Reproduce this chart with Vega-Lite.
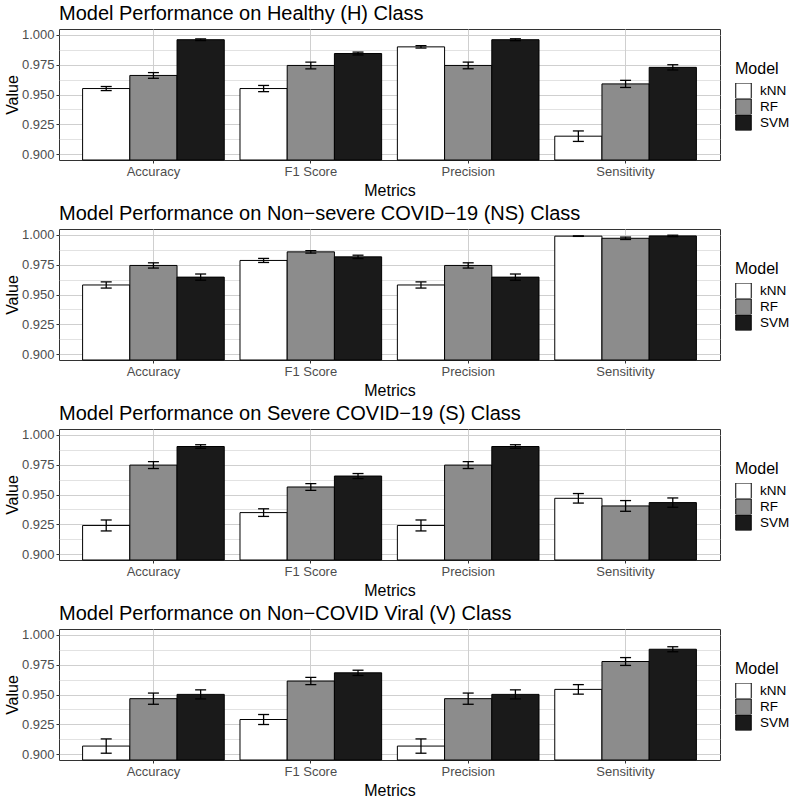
{
  "$schema": "https://vega.github.io/schema/vega-lite/v6.json",
  "padding": {"top": 3, "left": 3, "right": 4, "bottom": 2},
  "background": "white",
  "datasets": {
    "d": [
      {"Class": "H", "Metric": "Accuracy", "Model": "kNN", "Value": 0.955, "Lower": 0.9533, "Upper": 0.9567},
      {"Class": "H", "Metric": "Accuracy", "Model": "RF", "Value": 0.966, "Lower": 0.9636, "Upper": 0.9684},
      {"Class": "H", "Metric": "Accuracy", "Model": "SVM", "Value": 0.996, "Lower": 0.9953, "Upper": 0.9967},
      {"Class": "H", "Metric": "F1 Score", "Model": "kNN", "Value": 0.955, "Lower": 0.9524, "Upper": 0.9576},
      {"Class": "H", "Metric": "F1 Score", "Model": "RF", "Value": 0.9744, "Lower": 0.9716, "Upper": 0.9772},
      {"Class": "H", "Metric": "F1 Score", "Model": "SVM", "Value": 0.9844, "Lower": 0.9832, "Upper": 0.9856},
      {"Class": "H", "Metric": "Precision", "Model": "kNN", "Value": 0.99, "Lower": 0.989, "Upper": 0.991},
      {"Class": "H", "Metric": "Precision", "Model": "RF", "Value": 0.9744, "Lower": 0.9716, "Upper": 0.9772},
      {"Class": "H", "Metric": "Precision", "Model": "SVM", "Value": 0.996, "Lower": 0.9952, "Upper": 0.9968},
      {"Class": "H", "Metric": "Sensitivity", "Model": "kNN", "Value": 0.915, "Lower": 0.9106, "Upper": 0.9194},
      {"Class": "H", "Metric": "Sensitivity", "Model": "RF", "Value": 0.9589, "Lower": 0.9559, "Upper": 0.9619},
      {"Class": "H", "Metric": "Sensitivity", "Model": "SVM", "Value": 0.9728, "Lower": 0.9706, "Upper": 0.975},
      {"Class": "NS", "Metric": "Accuracy", "Model": "kNN", "Value": 0.958, "Lower": 0.9554, "Upper": 0.9606},
      {"Class": "NS", "Metric": "Accuracy", "Model": "RF", "Value": 0.9744, "Lower": 0.9722, "Upper": 0.9766},
      {"Class": "NS", "Metric": "Accuracy", "Model": "SVM", "Value": 0.9646, "Lower": 0.962, "Upper": 0.9672},
      {"Class": "NS", "Metric": "F1 Score", "Model": "kNN", "Value": 0.9786, "Lower": 0.9769, "Upper": 0.9803},
      {"Class": "NS", "Metric": "F1 Score", "Model": "RF", "Value": 0.9858, "Lower": 0.9847, "Upper": 0.9869},
      {"Class": "NS", "Metric": "F1 Score", "Model": "SVM", "Value": 0.9816, "Lower": 0.9802, "Upper": 0.983},
      {"Class": "NS", "Metric": "Precision", "Model": "kNN", "Value": 0.958, "Lower": 0.9554, "Upper": 0.9606},
      {"Class": "NS", "Metric": "Precision", "Model": "RF", "Value": 0.9744, "Lower": 0.9722, "Upper": 0.9766},
      {"Class": "NS", "Metric": "Precision", "Model": "SVM", "Value": 0.9646, "Lower": 0.962, "Upper": 0.9672},
      {"Class": "NS", "Metric": "Sensitivity", "Model": "kNN", "Value": 0.999, "Lower": 0.9988, "Upper": 0.9992},
      {"Class": "NS", "Metric": "Sensitivity", "Model": "RF", "Value": 0.9972, "Lower": 0.9962, "Upper": 0.9982},
      {"Class": "NS", "Metric": "Sensitivity", "Model": "SVM", "Value": 0.9992, "Lower": 0.9986, "Upper": 0.9998},
      {"Class": "S", "Metric": "Accuracy", "Model": "kNN", "Value": 0.924, "Lower": 0.9194, "Upper": 0.9286},
      {"Class": "S", "Metric": "Accuracy", "Model": "RF", "Value": 0.9747, "Lower": 0.9718, "Upper": 0.9776},
      {"Class": "S", "Metric": "Accuracy", "Model": "SVM", "Value": 0.9903, "Lower": 0.9888, "Upper": 0.9918},
      {"Class": "S", "Metric": "F1 Score", "Model": "kNN", "Value": 0.9348, "Lower": 0.9316, "Upper": 0.938},
      {"Class": "S", "Metric": "F1 Score", "Model": "RF", "Value": 0.9563, "Lower": 0.9535, "Upper": 0.9591},
      {"Class": "S", "Metric": "F1 Score", "Model": "SVM", "Value": 0.9655, "Lower": 0.9634, "Upper": 0.9676},
      {"Class": "S", "Metric": "Precision", "Model": "kNN", "Value": 0.924, "Lower": 0.9194, "Upper": 0.9286},
      {"Class": "S", "Metric": "Precision", "Model": "RF", "Value": 0.9747, "Lower": 0.9718, "Upper": 0.9776},
      {"Class": "S", "Metric": "Precision", "Model": "SVM", "Value": 0.9903, "Lower": 0.9888, "Upper": 0.9918},
      {"Class": "S", "Metric": "Sensitivity", "Model": "kNN", "Value": 0.9468, "Lower": 0.9428, "Upper": 0.9508},
      {"Class": "S", "Metric": "Sensitivity", "Model": "RF", "Value": 0.9404, "Lower": 0.9359, "Upper": 0.9449},
      {"Class": "S", "Metric": "Sensitivity", "Model": "SVM", "Value": 0.9432, "Lower": 0.9393, "Upper": 0.9471},
      {"Class": "V", "Metric": "Accuracy", "Model": "kNN", "Value": 0.9067, "Lower": 0.9007, "Upper": 0.9127},
      {"Class": "V", "Metric": "Accuracy", "Model": "RF", "Value": 0.9465, "Lower": 0.9418, "Upper": 0.9512},
      {"Class": "V", "Metric": "Accuracy", "Model": "SVM", "Value": 0.9501, "Lower": 0.9463, "Upper": 0.9539},
      {"Class": "V", "Metric": "F1 Score", "Model": "kNN", "Value": 0.929, "Lower": 0.9248, "Upper": 0.9332},
      {"Class": "V", "Metric": "F1 Score", "Model": "RF", "Value": 0.9613, "Lower": 0.9583, "Upper": 0.9643},
      {"Class": "V", "Metric": "F1 Score", "Model": "SVM", "Value": 0.9682, "Lower": 0.966, "Upper": 0.9704},
      {"Class": "V", "Metric": "Precision", "Model": "kNN", "Value": 0.9067, "Lower": 0.9007, "Upper": 0.9127},
      {"Class": "V", "Metric": "Precision", "Model": "RF", "Value": 0.9465, "Lower": 0.9418, "Upper": 0.9512},
      {"Class": "V", "Metric": "Precision", "Model": "SVM", "Value": 0.9501, "Lower": 0.9463, "Upper": 0.9539},
      {"Class": "V", "Metric": "Sensitivity", "Model": "kNN", "Value": 0.9543, "Lower": 0.9503, "Upper": 0.9583},
      {"Class": "V", "Metric": "Sensitivity", "Model": "RF", "Value": 0.9777, "Lower": 0.9744, "Upper": 0.981},
      {"Class": "V", "Metric": "Sensitivity", "Model": "SVM", "Value": 0.988, "Lower": 0.9859, "Upper": 0.9901}
    ]
  },
  "spacing": 4,
  "resolve": {"scale": {"fill": "independent"}, "legend": {"fill": "independent"}},
  "vconcat": [
    {
      "title": "Model Performance on Healthy (H) Class",
      "width": 661, "height": 131,
      "data": {"name": "d"},
      "transform": [{"filter": "datum.Class === 'H'"}],
      "encoding": {
        "x": {"field": "Metric", "type": "nominal", "title": "Metrics", "scale": {"paddingInner": 0.1, "paddingOuter": 0.15}, "axis": {"labelAngle": 0, "grid": true}},
        "xOffset": {"field": "Model", "type": "nominal", "sort": ["kNN", "RF", "SVM"], "scale": {"paddingInner": 0, "paddingOuter": 0}}
      },
      "layer": [
        {"mark": {"type": "bar", "stroke": "black", "strokeWidth": 1},
         "encoding": {
           "y": {"field": "Value", "type": "quantitative", "title": "Value", "scale": {"domain": [0.895, 1.005], "zero": false, "nice": false},
                 "axis": {"values": [0.9, 0.9125, 0.925, 0.9375, 0.95, 0.9625, 0.975, 0.9875, 1.0], "labelOverlap": false, "labelExpr": "round(datum.value*1000) % 25 == 0 ? format(datum.value, '.3f') : ''", "tickOpacity": {"condition": {"test": "round(datum.value*1000) % 25 != 0", "value": 0}, "value": 1}, "gridWidth": {"condition": {"test": "round(datum.value*1000) % 25 != 0", "value": 0.6}, "value": 1.1}}},
           "y2": {"datum": 0.895},
           "fill": {"field": "Model", "type": "nominal", "title": "Model", "scale": {"domain": ["kNN", "RF", "SVM"], "range": ["#ffffff", "#8c8c8c", "#1a1a1a"]}}
         }},
        {"mark": {"type": "rule", "strokeWidth": 1.3, "color": "black"},
         "encoding": {"y": {"field": "Lower", "type": "quantitative", "title": "Value", "axis": {"values": [0.9, 0.9125, 0.925, 0.9375, 0.95, 0.9625, 0.975, 0.9875, 1.0], "labelOverlap": false, "labelExpr": "round(datum.value*1000) % 25 == 0 ? format(datum.value, '.3f') : ''", "tickOpacity": {"condition": {"test": "round(datum.value*1000) % 25 != 0", "value": 0}, "value": 1}, "gridWidth": {"condition": {"test": "round(datum.value*1000) % 25 != 0", "value": 0.6}, "value": 1.1}}}, "y2": {"field": "Upper"}}},
        {"mark": {"type": "tick", "size": 11, "thickness": 1.3, "color": "black", "opacity": 1},
         "encoding": {"y": {"field": "Lower", "type": "quantitative", "title": "Value", "axis": {"values": [0.9, 0.9125, 0.925, 0.9375, 0.95, 0.9625, 0.975, 0.9875, 1.0], "labelOverlap": false, "labelExpr": "round(datum.value*1000) % 25 == 0 ? format(datum.value, '.3f') : ''", "tickOpacity": {"condition": {"test": "round(datum.value*1000) % 25 != 0", "value": 0}, "value": 1}, "gridWidth": {"condition": {"test": "round(datum.value*1000) % 25 != 0", "value": 0.6}, "value": 1.1}}}}},
        {"mark": {"type": "tick", "size": 11, "thickness": 1.3, "color": "black", "opacity": 1},
         "encoding": {"y": {"field": "Upper", "type": "quantitative", "title": "Value", "axis": {"values": [0.9, 0.9125, 0.925, 0.9375, 0.95, 0.9625, 0.975, 0.9875, 1.0], "labelOverlap": false, "labelExpr": "round(datum.value*1000) % 25 == 0 ? format(datum.value, '.3f') : ''", "tickOpacity": {"condition": {"test": "round(datum.value*1000) % 25 != 0", "value": 0}, "value": 1}, "gridWidth": {"condition": {"test": "round(datum.value*1000) % 25 != 0", "value": 0.6}, "value": 1.1}}}}}
      ]
    },
    {
      "title": "Model Performance on Non\u2212severe COVID\u221219 (NS) Class",
      "width": 661, "height": 131,
      "data": {"name": "d"},
      "transform": [{"filter": "datum.Class === 'NS'"}],
      "encoding": {
        "x": {"field": "Metric", "type": "nominal", "title": "Metrics", "scale": {"paddingInner": 0.1, "paddingOuter": 0.15}, "axis": {"labelAngle": 0, "grid": true}},
        "xOffset": {"field": "Model", "type": "nominal", "sort": ["kNN", "RF", "SVM"], "scale": {"paddingInner": 0, "paddingOuter": 0}}
      },
      "layer": [
        {"mark": {"type": "bar", "stroke": "black", "strokeWidth": 1},
         "encoding": {
           "y": {"field": "Value", "type": "quantitative", "title": "Value", "scale": {"domain": [0.895, 1.005], "zero": false, "nice": false},
                 "axis": {"values": [0.9, 0.9125, 0.925, 0.9375, 0.95, 0.9625, 0.975, 0.9875, 1.0], "labelOverlap": false, "labelExpr": "round(datum.value*1000) % 25 == 0 ? format(datum.value, '.3f') : ''", "tickOpacity": {"condition": {"test": "round(datum.value*1000) % 25 != 0", "value": 0}, "value": 1}, "gridWidth": {"condition": {"test": "round(datum.value*1000) % 25 != 0", "value": 0.6}, "value": 1.1}}},
           "y2": {"datum": 0.895},
           "fill": {"field": "Model", "type": "nominal", "title": "Model", "scale": {"domain": ["kNN", "RF", "SVM"], "range": ["#ffffff", "#8c8c8c", "#1a1a1a"]}}
         }},
        {"mark": {"type": "rule", "strokeWidth": 1.3, "color": "black"},
         "encoding": {"y": {"field": "Lower", "type": "quantitative", "title": "Value", "axis": {"values": [0.9, 0.9125, 0.925, 0.9375, 0.95, 0.9625, 0.975, 0.9875, 1.0], "labelOverlap": false, "labelExpr": "round(datum.value*1000) % 25 == 0 ? format(datum.value, '.3f') : ''", "tickOpacity": {"condition": {"test": "round(datum.value*1000) % 25 != 0", "value": 0}, "value": 1}, "gridWidth": {"condition": {"test": "round(datum.value*1000) % 25 != 0", "value": 0.6}, "value": 1.1}}}, "y2": {"field": "Upper"}}},
        {"mark": {"type": "tick", "size": 11, "thickness": 1.3, "color": "black", "opacity": 1},
         "encoding": {"y": {"field": "Lower", "type": "quantitative", "title": "Value", "axis": {"values": [0.9, 0.9125, 0.925, 0.9375, 0.95, 0.9625, 0.975, 0.9875, 1.0], "labelOverlap": false, "labelExpr": "round(datum.value*1000) % 25 == 0 ? format(datum.value, '.3f') : ''", "tickOpacity": {"condition": {"test": "round(datum.value*1000) % 25 != 0", "value": 0}, "value": 1}, "gridWidth": {"condition": {"test": "round(datum.value*1000) % 25 != 0", "value": 0.6}, "value": 1.1}}}}},
        {"mark": {"type": "tick", "size": 11, "thickness": 1.3, "color": "black", "opacity": 1},
         "encoding": {"y": {"field": "Upper", "type": "quantitative", "title": "Value", "axis": {"values": [0.9, 0.9125, 0.925, 0.9375, 0.95, 0.9625, 0.975, 0.9875, 1.0], "labelOverlap": false, "labelExpr": "round(datum.value*1000) % 25 == 0 ? format(datum.value, '.3f') : ''", "tickOpacity": {"condition": {"test": "round(datum.value*1000) % 25 != 0", "value": 0}, "value": 1}, "gridWidth": {"condition": {"test": "round(datum.value*1000) % 25 != 0", "value": 0.6}, "value": 1.1}}}}}
      ]
    },
    {
      "title": "Model Performance on Severe COVID\u221219 (S) Class",
      "width": 661, "height": 131,
      "data": {"name": "d"},
      "transform": [{"filter": "datum.Class === 'S'"}],
      "encoding": {
        "x": {"field": "Metric", "type": "nominal", "title": "Metrics", "scale": {"paddingInner": 0.1, "paddingOuter": 0.15}, "axis": {"labelAngle": 0, "grid": true}},
        "xOffset": {"field": "Model", "type": "nominal", "sort": ["kNN", "RF", "SVM"], "scale": {"paddingInner": 0, "paddingOuter": 0}}
      },
      "layer": [
        {"mark": {"type": "bar", "stroke": "black", "strokeWidth": 1},
         "encoding": {
           "y": {"field": "Value", "type": "quantitative", "title": "Value", "scale": {"domain": [0.895, 1.005], "zero": false, "nice": false},
                 "axis": {"values": [0.9, 0.9125, 0.925, 0.9375, 0.95, 0.9625, 0.975, 0.9875, 1.0], "labelOverlap": false, "labelExpr": "round(datum.value*1000) % 25 == 0 ? format(datum.value, '.3f') : ''", "tickOpacity": {"condition": {"test": "round(datum.value*1000) % 25 != 0", "value": 0}, "value": 1}, "gridWidth": {"condition": {"test": "round(datum.value*1000) % 25 != 0", "value": 0.6}, "value": 1.1}}},
           "y2": {"datum": 0.895},
           "fill": {"field": "Model", "type": "nominal", "title": "Model", "scale": {"domain": ["kNN", "RF", "SVM"], "range": ["#ffffff", "#8c8c8c", "#1a1a1a"]}}
         }},
        {"mark": {"type": "rule", "strokeWidth": 1.3, "color": "black"},
         "encoding": {"y": {"field": "Lower", "type": "quantitative", "title": "Value", "axis": {"values": [0.9, 0.9125, 0.925, 0.9375, 0.95, 0.9625, 0.975, 0.9875, 1.0], "labelOverlap": false, "labelExpr": "round(datum.value*1000) % 25 == 0 ? format(datum.value, '.3f') : ''", "tickOpacity": {"condition": {"test": "round(datum.value*1000) % 25 != 0", "value": 0}, "value": 1}, "gridWidth": {"condition": {"test": "round(datum.value*1000) % 25 != 0", "value": 0.6}, "value": 1.1}}}, "y2": {"field": "Upper"}}},
        {"mark": {"type": "tick", "size": 11, "thickness": 1.3, "color": "black", "opacity": 1},
         "encoding": {"y": {"field": "Lower", "type": "quantitative", "title": "Value", "axis": {"values": [0.9, 0.9125, 0.925, 0.9375, 0.95, 0.9625, 0.975, 0.9875, 1.0], "labelOverlap": false, "labelExpr": "round(datum.value*1000) % 25 == 0 ? format(datum.value, '.3f') : ''", "tickOpacity": {"condition": {"test": "round(datum.value*1000) % 25 != 0", "value": 0}, "value": 1}, "gridWidth": {"condition": {"test": "round(datum.value*1000) % 25 != 0", "value": 0.6}, "value": 1.1}}}}},
        {"mark": {"type": "tick", "size": 11, "thickness": 1.3, "color": "black", "opacity": 1},
         "encoding": {"y": {"field": "Upper", "type": "quantitative", "title": "Value", "axis": {"values": [0.9, 0.9125, 0.925, 0.9375, 0.95, 0.9625, 0.975, 0.9875, 1.0], "labelOverlap": false, "labelExpr": "round(datum.value*1000) % 25 == 0 ? format(datum.value, '.3f') : ''", "tickOpacity": {"condition": {"test": "round(datum.value*1000) % 25 != 0", "value": 0}, "value": 1}, "gridWidth": {"condition": {"test": "round(datum.value*1000) % 25 != 0", "value": 0.6}, "value": 1.1}}}}}
      ]
    },
    {
      "title": "Model Performance on Non\u2212COVID Viral (V) Class",
      "width": 661, "height": 131,
      "data": {"name": "d"},
      "transform": [{"filter": "datum.Class === 'V'"}],
      "encoding": {
        "x": {"field": "Metric", "type": "nominal", "title": "Metrics", "scale": {"paddingInner": 0.1, "paddingOuter": 0.15}, "axis": {"labelAngle": 0, "grid": true}},
        "xOffset": {"field": "Model", "type": "nominal", "sort": ["kNN", "RF", "SVM"], "scale": {"paddingInner": 0, "paddingOuter": 0}}
      },
      "layer": [
        {"mark": {"type": "bar", "stroke": "black", "strokeWidth": 1},
         "encoding": {
           "y": {"field": "Value", "type": "quantitative", "title": "Value", "scale": {"domain": [0.895, 1.005], "zero": false, "nice": false},
                 "axis": {"values": [0.9, 0.9125, 0.925, 0.9375, 0.95, 0.9625, 0.975, 0.9875, 1.0], "labelOverlap": false, "labelExpr": "round(datum.value*1000) % 25 == 0 ? format(datum.value, '.3f') : ''", "tickOpacity": {"condition": {"test": "round(datum.value*1000) % 25 != 0", "value": 0}, "value": 1}, "gridWidth": {"condition": {"test": "round(datum.value*1000) % 25 != 0", "value": 0.6}, "value": 1.1}}},
           "y2": {"datum": 0.895},
           "fill": {"field": "Model", "type": "nominal", "title": "Model", "scale": {"domain": ["kNN", "RF", "SVM"], "range": ["#ffffff", "#8c8c8c", "#1a1a1a"]}}
         }},
        {"mark": {"type": "rule", "strokeWidth": 1.3, "color": "black"},
         "encoding": {"y": {"field": "Lower", "type": "quantitative", "title": "Value", "axis": {"values": [0.9, 0.9125, 0.925, 0.9375, 0.95, 0.9625, 0.975, 0.9875, 1.0], "labelOverlap": false, "labelExpr": "round(datum.value*1000) % 25 == 0 ? format(datum.value, '.3f') : ''", "tickOpacity": {"condition": {"test": "round(datum.value*1000) % 25 != 0", "value": 0}, "value": 1}, "gridWidth": {"condition": {"test": "round(datum.value*1000) % 25 != 0", "value": 0.6}, "value": 1.1}}}, "y2": {"field": "Upper"}}},
        {"mark": {"type": "tick", "size": 11, "thickness": 1.3, "color": "black", "opacity": 1},
         "encoding": {"y": {"field": "Lower", "type": "quantitative", "title": "Value", "axis": {"values": [0.9, 0.9125, 0.925, 0.9375, 0.95, 0.9625, 0.975, 0.9875, 1.0], "labelOverlap": false, "labelExpr": "round(datum.value*1000) % 25 == 0 ? format(datum.value, '.3f') : ''", "tickOpacity": {"condition": {"test": "round(datum.value*1000) % 25 != 0", "value": 0}, "value": 1}, "gridWidth": {"condition": {"test": "round(datum.value*1000) % 25 != 0", "value": 0.6}, "value": 1.1}}}}},
        {"mark": {"type": "tick", "size": 11, "thickness": 1.3, "color": "black", "opacity": 1},
         "encoding": {"y": {"field": "Upper", "type": "quantitative", "title": "Value", "axis": {"values": [0.9, 0.9125, 0.925, 0.9375, 0.95, 0.9625, 0.975, 0.9875, 1.0], "labelOverlap": false, "labelExpr": "round(datum.value*1000) % 25 == 0 ? format(datum.value, '.3f') : ''", "tickOpacity": {"condition": {"test": "round(datum.value*1000) % 25 != 0", "value": 0}, "value": 1}, "gridWidth": {"condition": {"test": "round(datum.value*1000) % 25 != 0", "value": 0.6}, "value": 1.1}}}}}
      ]
    }
  ],
  "config": {
    "font": "Liberation Sans",
    "view": {"stroke": "#333333", "strokeWidth": 1},
    "title": {"fontSize": 20, "fontWeight": "normal", "anchor": "start", "frame": "group", "color": "black", "offset": 5},
    "axis": {"labelFontSize": 13, "labelColor": "#4d4d4d", "titleFontSize": 16, "titleFontWeight": "normal", "titleColor": "black", "tickColor": "#333333", "tickSize": 3, "labelPadding": 2, "domain": false, "gridColor": "#cfcfcf", "titlePadding": 4},
    "axisY": {"titlePadding": 1},
    "legend": {"orient": "none", "legendX": 676, "legendY": 32, "titleFontSize": 16, "titleFontWeight": "normal", "titleColor": "black", "labelFontSize": 13.5, "labelColor": "black", "symbolType": "square", "symbolSize": 240, "symbolStrokeColor": "black", "symbolStrokeWidth": 1, "rowPadding": 0, "clipHeight": 15.5, "labelOffset": 8, "titlePadding": 6}
  }
}
